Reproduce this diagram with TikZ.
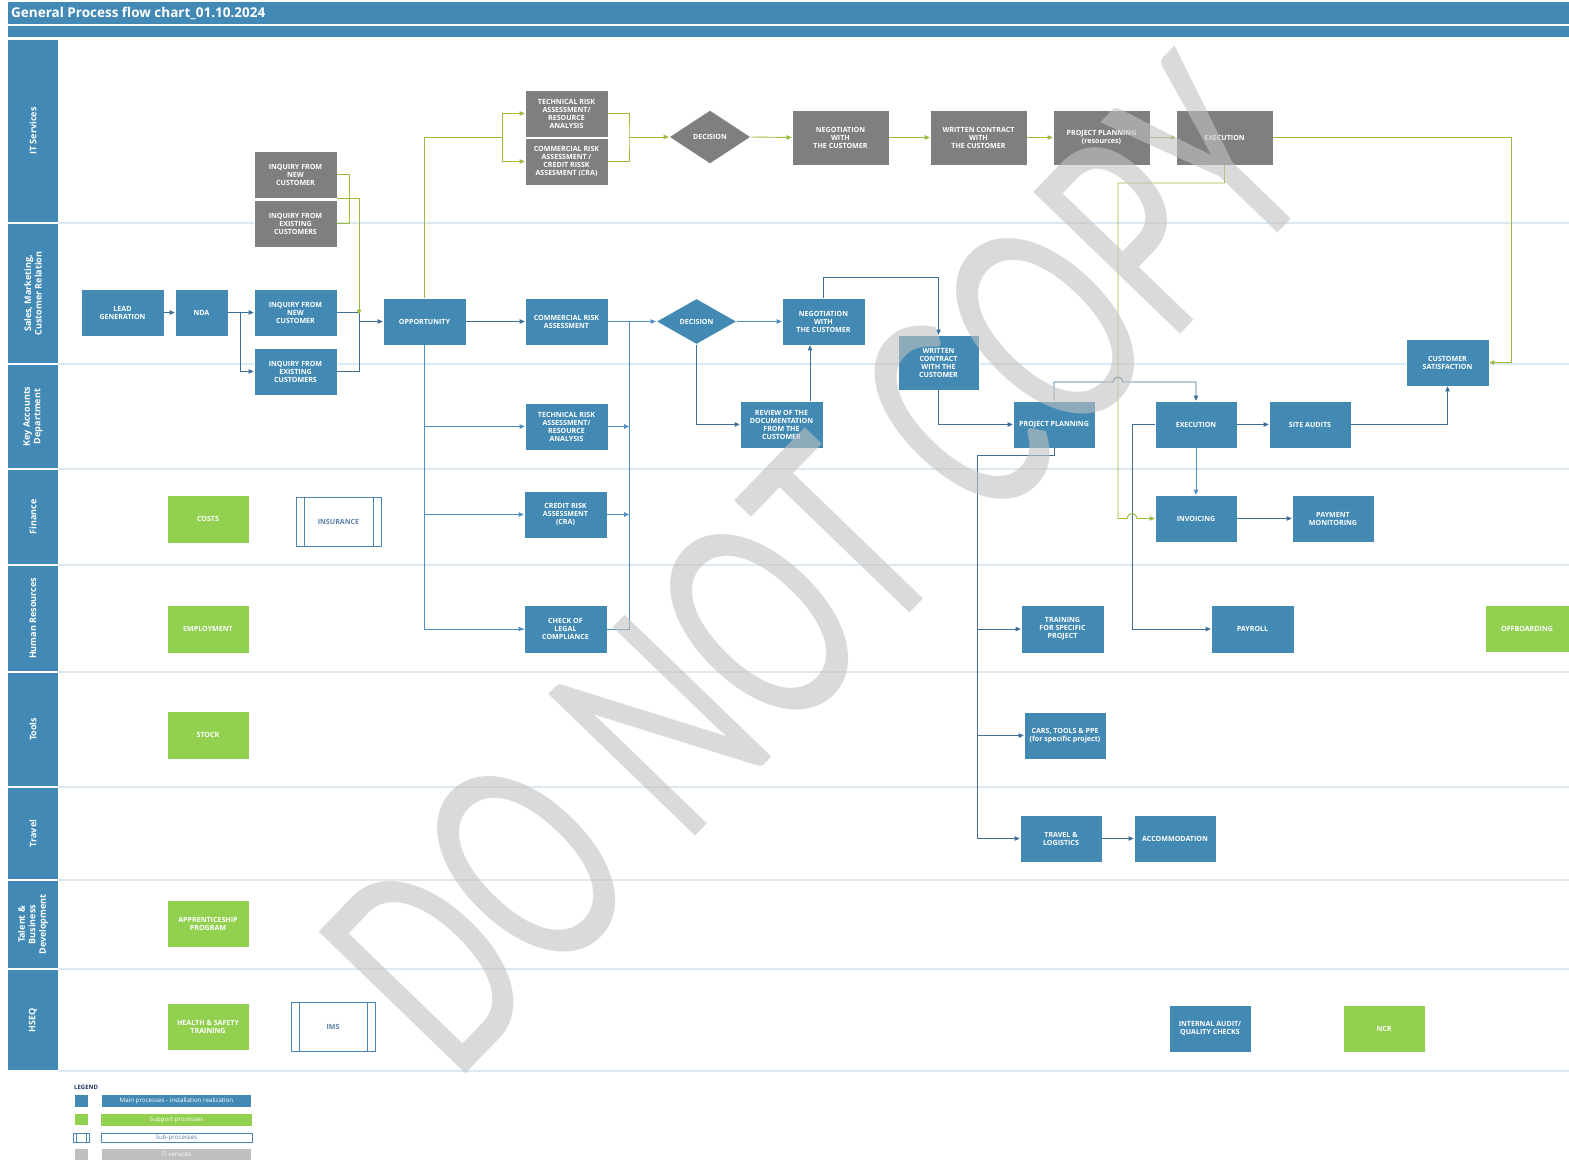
\documentclass[tikz,border=0pt]{standalone}
\usepackage{fontspec}
\setmainfont{Open Sans}
\newfontfamily\wmfont{Carlito}
\usetikzlibrary{arrows.meta,shapes.geometric}

\definecolor{headblue}{HTML}{428AB5}
\definecolor{mainblue}{HTML}{428AB4}
\definecolor{itgrey}{HTML}{7F7F7F}
\definecolor{supgreen}{HTML}{92D050}
\definecolor{subblue}{HTML}{4A86B8}
\definecolor{subtext}{HTML}{5A7FA6}
\definecolor{flowblue}{HTML}{3F6F96}
\definecolor{flowlight}{HTML}{4F8FC6}
\definecolor{flowgreen}{HTML}{9BBB3B}
\definecolor{laneline}{HTML}{DCE9F3}
\definecolor{legnavy}{HTML}{1F3864}
\definecolor{legrey}{HTML}{BFBFBF}

\newcommand\boxfont{\bfseries\fontsize{7.1}{8}\selectfont}
\newcommand\lanefont{\bfseries\fontsize{9}{10.5}\selectfont}
\newcommand\legfont{\fontsize{6.2}{7}\selectfont}

\begin{document}
\begin{tikzpicture}[x=1pt,y=-1pt,
  base/.style={rectangle, inner sep=0pt, align=center, font=\boxfont, text=white,
    minimum width=83pt, minimum height=47pt, draw=white, line width=0.7pt},
  mbox/.style={base, fill=mainblue},
  itbox/.style={base, fill=itgrey},
  supbox/.style={base, fill=supgreen},
  subbox/.style={base, fill=white, draw=subblue, text=subtext,
    path picture={
      \draw[subblue, line width=0.7pt]
        ([xshift=8pt]path picture bounding box.north west) --
        ([xshift=8pt]path picture bounding box.south west)
        ([xshift=-8pt]path picture bounding box.north east) --
        ([xshift=-8pt]path picture bounding box.south east);}},
  decbox/.style={diamond, inner sep=0pt, font=\boxfont, text=white, draw=white,
    line width=0.7pt},
  lanetext/.style={font=\lanefont, text=white, align=center, rotate=90, inner sep=0pt},
  tip/.style={-{Triangle[length=5pt,width=4.5pt]}},
  ln/.style={draw=flowblue, line width=0.9pt},
  fl/.style={ln, tip},
  lnl/.style={draw=flowlight, line width=0.9pt},
  fll/.style={lnl, tip},
  gl/.style={draw=flowgreen, line width=0.9pt},
  gfl/.style={gl, tip},
  legbar/.style={rectangle, inner sep=0pt, font=\legfont, text=white}
]
\useasboundingbox (0,0) rectangle (1569,1161);
\fill[white] (0,0) rectangle (1569,1161);

% ---------- header ----------
\fill[headblue] (8,2) rectangle (1569,24);
\node[anchor=west, inner sep=0pt, text=white, font=\bfseries\fontsize{13.5}{15}\selectfont]
  (title) at (11,13) {General Process flow chart\_01.10.2024};
\fill[headblue] (8,26.5) rectangle (1569,37);

% ---------- swim lanes ----------
\foreach [count=\i] \t/\b/\l in {
    39/223/{IT Services},
    223/364/{Sales, Marketing,\\Customer Relation},
    364/469/{Key Accounts\\Department},
    469/565/{Finance},
    565/672/{Human Resources},
    672/787/{Tools},
    787/880/{Travel},
    880/969/{Talent \&\\Business\\Development},
    969/1071/{HSEQ}} {
  \fill[headblue] (8,\t+0.8) rectangle (58,\b-0.8);
  \draw[laneline, line width=1.3pt] (58,\b) -- (1569,\b);
  \node[lanetext] (lane\i) at (33,{(\t+\b)/2}) {\l};
}

% ---------- IT services lane ----------
\node[itbox] (itnew)   at (295.5,174.5) {INQUIRY FROM\\NEW\\CUSTOMER};
\node[itbox] (itexist) at (295.5,223.5) {INQUIRY FROM\\EXISTING\\CUSTOMERS};
\node[itbox] (ittech)  at (566.5,113.5) {TECHNICAL RISK\\ASSESSMENT/\\RESOURCE\\ANALYSIS};
\node[itbox] (itcomm)  at (566.5,161.5) {COMMERCIAL RISK\\ASSESSMENT /\\CREDIT RISSK\\ASSESMENT (CRA)};
\node[decbox, fill=itgrey, minimum width=82pt, minimum height=54pt] (itdec) at (710,137) {DECISION};
\node[itbox, minimum width=97pt, minimum height=55pt] (itneg) at (840.5,137.5) {NEGOTIATION\\WITH\\THE CUSTOMER};
\node[itbox, minimum width=97pt, minimum height=55pt] (itwc)  at (978.5,137.5) {WRITTEN CONTRACT\\WITH\\THE CUSTOMER};
\node[itbox, minimum width=97pt, minimum height=55pt] (itpp)  at (1101.5,137.5) {PROJECT PLANNING\\(resources)};
\node[itbox, minimum width=97pt, minimum height=55pt] (itex)  at (1224.5,137.5) {EXECUTION};

% ---------- Sales lane ----------
\node[mbox] (lead)   at (122.5,312.5) {LEAD\\GENERATION};
\node[mbox, minimum width=53pt] (nda) at (201.5,312.5) {NDA};
\node[mbox] (snew)   at (295.5,312.5) {INQUIRY FROM\\NEW\\CUSTOMER};
\node[mbox] (sexist) at (295.5,371.5) {INQUIRY FROM\\EXISTING\\CUSTOMERS};
\node[mbox] (opp)    at (424.5,321.5) {OPPORTUNITY};
\node[mbox] (scomm)  at (566.5,321.5) {COMMERCIAL RISK\\ASSESSMENT};
\node[decbox, fill=mainblue, minimum width=81pt, minimum height=46pt] (sdec) at (696.5,321.5) {DECISION};
\node[mbox] (sneg)   at (823.5,321.5) {NEGOTIATION\\WITH\\THE CUSTOMER};
\node[mbox, minimum width=81pt, minimum height=55pt] (wc) at (938.5,362.5) {WRITTEN\\CONTRACT\\WITH THE\\CUSTOMER};
\node[mbox] (cs)     at (1447.5,362.5) {CUSTOMER\\SATISFACTION};

% ---------- Key accounts lane ----------
\node[mbox] (katech) at (566.5,426.5) {TECHNICAL RISK\\ASSESSMENT/\\RESOURCE\\ANALYSIS};
\node[mbox] (review) at (781.5,424.5) {REVIEW OF THE\\DOCUMENTATION\\FROM THE\\CUSTOMER};
\node[mbox, minimum width=82pt] (pp)    at (1054,424.5) {PROJECT PLANNING};
\node[mbox, minimum width=82pt] (ex)    at (1196,424.5) {EXECUTION};
\node[mbox, minimum width=82pt] (audit) at (1310,424.5) {SITE AUDITS};

% ---------- Finance lane ----------
\node[supbox, minimum width=82pt, minimum height=48pt] (costs) at (208,519) {COSTS};
\node[subbox, minimum width=85pt, minimum height=49pt] (insur) at (338.5,521.5) {INSURANCE};
\node[mbox] (cra)  at (565.5,514.5) {CREDIT RISK\\ASSESSMENT\\(CRA)};
\node[mbox, minimum width=82pt] (inv)  at (1196,518.5) {INVOICING};
\node[mbox, minimum width=82pt] (paym) at (1333,518.5) {PAYMENT\\MONITORING};

% ---------- Human resources lane ----------
\node[supbox, minimum width=82pt, minimum height=48pt] (empl) at (208,629) {EMPLOYMENT};
\node[mbox, minimum height=48pt] (legal)   at (565.5,629) {CHECK OF\\LEGAL\\COMPLIANCE};
\node[mbox, minimum height=48pt] (train)   at (1062.5,629) {TRAINING\\FOR SPECIFIC\\PROJECT};
\node[mbox, minimum height=48pt] (payroll) at (1252.5,629) {PAYROLL};
\node[supbox, minimum width=84pt] (offb)   at (1527,628.5) {OFFBOARDING};

% ---------- Tools lane ----------
\node[supbox, minimum width=82pt, minimum height=48pt] (stock) at (208,735) {STOCK};
\node[mbox, minimum width=82pt] (cars) at (1065,735.5) {CARS, TOOLS \& PPE\\(for specific project)};

% ---------- Travel lane ----------
\node[mbox, minimum width=82pt] (travel) at (1061,838.5) {TRAVEL \&\\LOGISTICS};
\node[mbox, minimum width=82pt] (accom)  at (1175,838.5) {ACCOMMODATION};

% ---------- Talent lane ----------
\node[supbox, minimum width=82pt] (appr) at (208,923.5) {APPRENTICESHIP\\PROGRAM};

% ---------- HSEQ lane ----------
\node[supbox, minimum width=82pt] (hs) at (208,1027) {HEALTH \& SAFETY\\TRAINING};
\node[subbox, minimum width=84pt, minimum height=49pt] (ims) at (333,1026.5) {IMS};
\node[mbox, minimum width=82pt] (ia)  at (1210,1028.5) {INTERNAL AUDIT/\\QUALITY CHECKS};
\node[supbox, minimum width=82pt] (ncr) at (1384,1028.5) {NCR};

% ---------- junction points ----------
\coordinate (j1) at (240,312.5);
\coordinate (j2) at (359,312.5);
\coordinate (j3) at (359,321.5);
\coordinate (gj) at (502,137);
\coordinate (gk) at (629,137);
\coordinate (bus) at (629,321.5);
\coordinate (rv) at (810,0);
\coordinate (pbus) at (977,455);
\coordinate (ebus) at (1132,424.5);

% ---------- blue connectors ----------
\draw[fl] (lead.east) -- (nda.west);
\draw[fl] (nda.east) -- (snew.west);
\draw[fl] (j1) |- (sexist.west);
\draw[ln] (snew.east) -- (j2) |- (sexist.east);
\draw[fl] (j3) -- (opp.west);
\draw[fl] (opp.east) -- (scomm.west);
\draw[lnl] (opp.south) |- (legal.west);
\draw[fll] (opp.south |- legal.west) -- (legal.west);
\draw[fll] (opp.south |- katech.west) -- (katech.west);
\draw[fll] (opp.south |- cra.west) -- (cra.west);
\draw[fll] (scomm.east) -- (sdec.west);
\draw[lnl] (bus) |- (legal.east);
\draw[fll] (katech.east) -- (bus |- katech.east);
\draw[fll] (cra.east) -- (bus |- cra.east);
\draw[fll] (sdec.east) -- (sneg.west);
\draw[fl] (sdec.south) |- (review.west);
\draw[fl] (review.north -| rv) -- (sneg.south -| rv);
\draw[fl] (sneg.north) -- ++(0,-20) -| (wc.north);
\draw[fl] (wc.south) |- (pp.west);
\draw[fl] (pp.north) |- (1113,382) arc[start angle=180, end angle=360, radius=5] -| (ex.north);
\draw[ln] (pp.south) |- (pbus) -- (pbus |- travel.west);
\draw[fl] (pbus |- train.west) -- (train.west);
\draw[fl] (pbus |- cars.west) -- (cars.west);
\draw[fl] (pbus |- travel.west) -- (travel.west);
\draw[fl] (ex.west) -- (ebus) |- (payroll.west);
\draw[fl] (ex.east) -- (audit.west);
\draw[fll] (ex.south) -- (inv.north);
\draw[fl] (audit.east) -| (cs.south);
\draw[fl] (inv.east) -- (paym.west);
\draw[fl] (travel.east) -- (accom.west);

% ---------- green connectors (IT services) ----------
\draw[gl] (itnew.east) -- (349,174.5) |- (itexist.east);
\draw[gfl] (itnew.south east) -| ([yshift=-2pt]j2);
\draw[gl] (opp.north) |- (gj);
\draw[gfl] (gj) |- (ittech.west);
\draw[gfl] (gj) |- (itcomm.west);
\draw[gl] (ittech.east) -| (gk) |- (itcomm.east);
\draw[gfl] (gk) -- (itdec.west);
\draw[gfl] (itdec.east) -- (itneg.west);
\draw[gfl] (itneg.east) -- (itwc.west);
\draw[gfl] (itwc.east) -- (itpp.west);
\draw[gfl] (itpp.east) -- (itex.west);
\draw[gfl] (itex.east) -- (1511,137.5) |- (cs.east);
\draw[gfl] (itex.south) |- (1118,183) -- (1118,518.5) -- (1127,518.5)
  arc[start angle=180, end angle=360, radius=5] -- (inv.west);

% ---------- legend ----------
\node[anchor=west, inner sep=0pt, text=legnavy, font=\bfseries\fontsize{6}{7}\selectfont]
  (legend) at (74,1087) {LEGEND};
\node[legbar, fill=mainblue, minimum width=13pt, minimum height=12pt] (lg1s) at (81.5,1101) {};
\node[legbar, fill=mainblue, minimum width=149pt, minimum height=12pt] (lg1) at (176.5,1101)
  {Main processes - installation realization};
\node[legbar, fill=supgreen, minimum width=13pt, minimum height=11pt] (lg2s) at (81.5,1119.5) {};
\node[legbar, fill=supgreen, minimum width=151pt, minimum height=12pt] (lg2) at (176.5,1120)
  {Support processes};
\node[legbar, draw=subblue, line width=0.7pt, fill=white, minimum width=16pt, minimum height=9pt,
  path picture={\draw[subblue, line width=0.6pt]
    ([xshift=3pt]path picture bounding box.north west) -- ([xshift=3pt]path picture bounding box.south west)
    ([xshift=-3pt]path picture bounding box.north east) -- ([xshift=-3pt]path picture bounding box.south east);}]
  (lg3s) at (81,1137.5) {};
\node[legbar, draw=subblue, line width=0.7pt, fill=white, text=subtext, minimum width=151pt,
  minimum height=9pt] (lg3) at (176.5,1137.5) {Sub-processes};
\node[legbar, fill=legrey, minimum width=13pt, minimum height=11pt] (lg4s) at (81.5,1154.5) {};
\node[legbar, fill=legrey, minimum width=149pt, minimum height=11pt] (lg4) at (176.5,1154.5)
  {IT services};

% ---------- watermark ----------
\node[rotate=46, inner sep=0pt, text=black!24, text opacity=0.6] (wm) at (815,565)
  {\scalebox{0.69}[1]{\wmfont\fontsize{318}{318}\selectfont DO NOT COPY}};
\end{tikzpicture}
\end{document}
